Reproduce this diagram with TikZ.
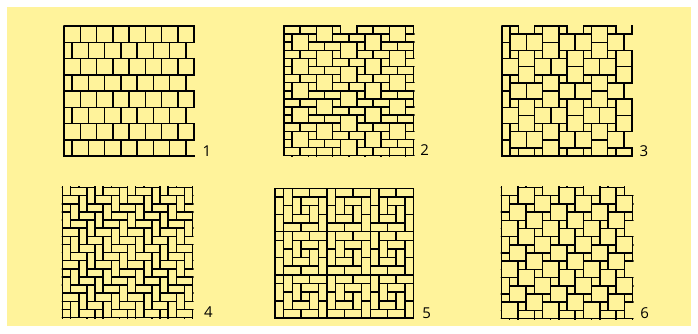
\documentclass[tikz,border=0pt]{standalone}
\usepackage{fontspec}
\setsansfont{Open Sans}

\definecolor{paper}{RGB}{255,243,155}

\begin{document}
\begin{tikzpicture}[
    x=1pt, y=-1pt,
    tile/.style={draw=black, line width=1.5pt},
    rim/.style={draw=black, line width=1.5pt},
    num/.style={anchor=base, inner sep=0pt, font=\sffamily\fontsize{15}{15}\selectfont},
]

\useasboundingbox (0,0) rectangle (698,333);
\fill[paper] (7,7) rectangle (691,326);

% 1: running bond of squares
\def\u{8.125}
\begin{scope}[shift={(64,26)}]
  \begin{scope}
    \clip (-0.75,-0.75) rectangle ({16*\u+0.75},{16*\u+0.75});
    \foreach \r in {0,...,7}
      \foreach \k in {0,...,8}
        \draw[tile] ({(2*\k-mod(\r,2))*\u},{2*\r*\u}) rectangle ++({2*\u},{2*\u});
  \end{scope}
  \draw[rim] (0,0) -- (0,{16*\u}) -- ({16*\u},{16*\u});
  \node[num] (n1) at ({16*\u+13},{16*\u}) {1};
\end{scope}

% 2: big squares, bricks and small squares
\def\u{8.1}
\begin{scope}[shift={(284,26)}]
  \begin{scope}
    \clip (-0.75,-0.75) rectangle ({16*\u+0.75},{16*\u+0.75});
    \foreach \m in {-1,...,5}
      \foreach \n in {-1,...,7} {
        \pgfmathsetmacro\px{3*\m}
        \pgfmathsetmacro\py{3*\n-\m}
        \draw[tile] ({\px*\u},{\py*\u}) rectangle ++({2*\u},{\u});
        \draw[tile] ({(\px+2)*\u},{\py*\u}) rectangle ++({2*\u},{\u});
        \draw[tile] ({(\px+1)*\u},{(\py+1)*\u}) rectangle ++({2*\u},{2*\u});
        \draw[tile] ({\px*\u},{(\py+2)*\u}) rectangle ++({\u},{\u});
      }
  \end{scope}
  \draw[rim] (0,0) -- (0,{16*\u}) -- ({16*\u},{16*\u});
  \node[num] (n2) at ({16*\u+11},{16*\u}) {2};
\end{scope}

% 3: squares in two sizes
\def\u{8.125}
\begin{scope}[shift={(502,26)}]
  \begin{scope}
    \clip (-0.75,-0.75) rectangle ({16*\u+0.75},{16*\u+0.75});
    \foreach \m in {-3,...,2}
      \foreach \n in {0,...,5} {
        \pgfmathsetmacro\px{6*\m+3*\n}
        \pgfmathsetmacro\py{3*\n}
        \foreach \tx/\ty in {1/0, 4/0}
          \draw[tile] ({(\px+\tx)*\u},{(\py+\ty)*\u}) rectangle ++({\u},{\u});
        \foreach \tx/\ty in {2/-1, 5/0, 1/1, 3/1}
          \draw[tile] ({(\px+\tx)*\u},{(\py+\ty)*\u}) rectangle ++({2*\u},{2*\u});
      }
  \end{scope}
  \draw[rim] (0,0) -- (0,{16*\u}) -- ({16*\u},{16*\u});
  \node[num] (n3) at ({16*\u+12},{16*\u}) {3};
\end{scope}

% 4: herringbone
\def\u{8.125}
\begin{scope}[shift={(62.5,187.5)}]
  \begin{scope}
    \clip (-0.75,-0.75) rectangle ({16*\u+0.75},{16*\u+0.75});
    \foreach \r in {-2,...,16} {
      \pgfmathsetmacro\ox{mod(101-\r,4)-4}
      \foreach \k in {0,...,5} {
        \draw[tile] ({(\ox+4*\k)*\u},{\r*\u}) rectangle ++({2*\u},{\u});
        \draw[tile] ({(\ox+4*\k-2)*\u},{\r*\u}) rectangle ++({\u},{2*\u});
      }
    }
  \end{scope}
  \draw[rim] (0,0) -- (0,{16*\u}) -- ({16*\u},{16*\u});
  \node[num] (n4) at ({16*\u+16},{16*\u}) {4};
\end{scope}

% 5: pinwheel blocks
\def\u{8.66}
\begin{scope}[shift={(275,188.3)}]
  \begin{scope}
    \clip (-0.75,-0.75) rectangle ({16*\u+0.75},{15*\u+0.75});
    \foreach \a in {0,...,3}
      \foreach \b in {0,...,2} {
        \pgfmathsetmacro\bx{5*\a-4}
        \pgfmathsetmacro\by{5*\b}
        \foreach \tx/\ty/\tw/\th in {0/0/1/2, 0/2/1/2, 1/0/2/1, 3/0/2/1,
                                    4/1/1/2, 4/3/1/2, 0/4/2/1, 2/4/2/1,
                                    1/1/1/2, 2/1/2/1, 3/2/1/2, 1/3/2/1, 2/2/1/1}
          \draw[tile] ({(\bx+\tx)*\u},{(\by+\ty)*\u}) rectangle ++({\tw*\u},{\th*\u});
      }
  \end{scope}
  \draw[rim] (0,0) -- (0,{15*\u}) -- ({16*\u},{15*\u});
  \node[num] (n5) at ({16*\u+13},{15*\u}) {5};
\end{scope}

% 6: big and small squares
\def\u{8.19}
\begin{scope}[shift={(501.5,187.5)}]
  \begin{scope}
    \clip (-0.75,-0.75) rectangle ({16*\u+0.75},{16*\u+0.75});
    \foreach \m in {-3,...,10}
      \foreach \n in {-5,...,8} {
        \pgfmathsetmacro\px{2+2*\m-\n}
        \pgfmathsetmacro\py{\m+2*\n}
        \draw[tile] ({\px*\u},{\py*\u}) rectangle ++({2*\u},{2*\u});
        \draw[tile] ({(\px+2)*\u},{\py*\u}) rectangle ++({\u},{\u});
      }
  \end{scope}
  \draw[rim] (0,0) -- (0,{16*\u}) -- ({16*\u},{16*\u});
  \node[num] (n6) at ({16*\u+12},{16*\u}) {6};
\end{scope}

\end{tikzpicture}
\end{document}
